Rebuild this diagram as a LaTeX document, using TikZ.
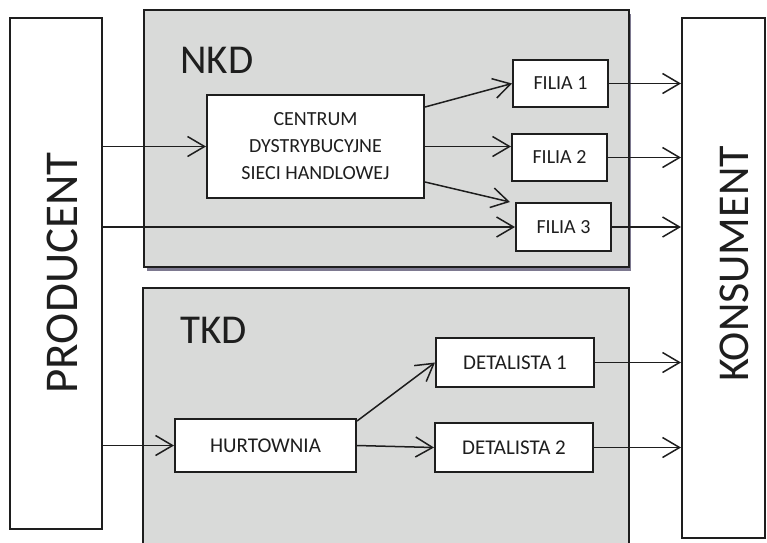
\documentclass[tikz,border=0pt]{standalone}
\usepackage{fontspec}
\setmainfont{Carlito}
\usetikzlibrary{arrows.meta}
\definecolor{panelgray}{HTML}{D9DAD9}
\definecolor{ink}{HTML}{1E1E1E}
\definecolor{shadecol}{HTML}{7D7990}

\begin{document}
\begin{tikzpicture}[x=1pt,y=-1pt,
  box/.style={draw=ink, line width=2pt, fill=white, inner sep=0pt},
  panel/.style={draw=ink, line width=2pt, fill=panelgray, inner sep=0pt},
  flow/.style={draw=ink, line width=1.5pt,
    -{Straight Barb[length=17pt,width=20pt,line width=1.5pt]}},
  bigtxt/.style={font=\fontsize{44}{44}\selectfont, text=ink},
  paneltxt/.style={font=\fontsize{41}{41}\selectfont, text=ink, anchor=base west, inner sep=0pt},
  nkdtxt/.style={font=\fontsize{20}{27}\selectfont, text=ink},
  tkdtxt/.style={font=\fontsize{21}{26}\selectfont, text=ink}]

\path[use as bounding box, clip] (0,0) rectangle (767,542);
\fill[white] (0,0) rectangle (767,542);

% outer actors
\node[box, minimum width=92, minimum height=511] (prod) at (56,273.5) {};
\node[bigtxt, rotate=90, font=\fontsize{47}{47}\selectfont] (prodtxt) at (62,273) {PRODUCENT};
\node[box, minimum width=83, minimum height=520] (kons) at (723.5,278) {};
\node[bigtxt, rotate=90] (konstxt) at (734,264) {KONSUMENT};

% NKD panel with its shadow
\fill[shadecol] (147,14) rectangle (631,270.5);
\node[panel, minimum width=485, minimum height=257] (nkd) at (386.5,138.5) {};
\node[paneltxt] (nkdlab) at (180,73) {NKD};

% TKD panel
\node[panel, minimum width=486, minimum height=264] (tkd) at (386,420) {};
\node[paneltxt] (tkdlab) at (180,343) {TKD};

% NKD boxes
\node[box, nkdtxt, minimum width=217, minimum height=103, align=center] (cen) at (315.5,146.5)
  {CENTRUM\\DYSTRYBUCYJNE\\SIECI HANDLOWEJ};
\node[box, nkdtxt, minimum width=95, minimum height=47] (f1) at (560.5,83.5) {FILIA 1};
\node[box, nkdtxt, minimum width=95, minimum height=47] (f2) at (559.5,157.5) {FILIA 2};
\node[box, nkdtxt, minimum width=95, minimum height=48] (f3) at (563.5,227) {FILIA 3};

% TKD boxes
\node[box, tkdtxt, minimum width=181, minimum height=53] (hurt) at (265.5,445.5) {HURTOWNIA};
\node[box, tkdtxt, minimum width=158, minimum height=49] (d1) at (515,362.5) {DETALISTA 1};
\node[box, tkdtxt, minimum width=158, minimum height=49] (d2) at (514,447.5) {DETALISTA 2};

% helper points on box borders
\coordinate (cenA) at ([yshift=39.5pt]cen.east);
\coordinate (cenC) at ([yshift=-35.5pt]cen.east);
\coordinate (f3tip) at ([xshift=-5pt]f3.north west);
\coordinate (hurtA) at ([yshift=-3pt]hurt.north east);

% NKD flows
\draw[flow] (prod.east |- cen.west) -- (cen.west);
\draw[flow] (cenA) -- (f1.west);
\draw[flow] (cen.east) -- (cen.east -| f2.west);
\draw[flow] (cenC) -- (f3tip);
\draw[flow] (prod.east |- f3.west) -- (f3.west);
\draw[flow] (f1.east) -- (f1.east -| kons.west);
\draw[flow] (f2.east) -- (f2.east -| kons.west);
\draw[flow] (f3.east) -- (f3.east -| kons.west);

% TKD flows
\draw[flow] (prod.east |- hurt.west) -- (hurt.west);
\draw[flow] (hurtA) -- (d1.west);
\draw[flow] (hurt.east) -- (d2.west);
\draw[flow] (d1.east) -- (d1.east -| kons.west);
\draw[flow] (d2.east) -- (d2.east -| kons.west);
\end{tikzpicture}
\end{document}
